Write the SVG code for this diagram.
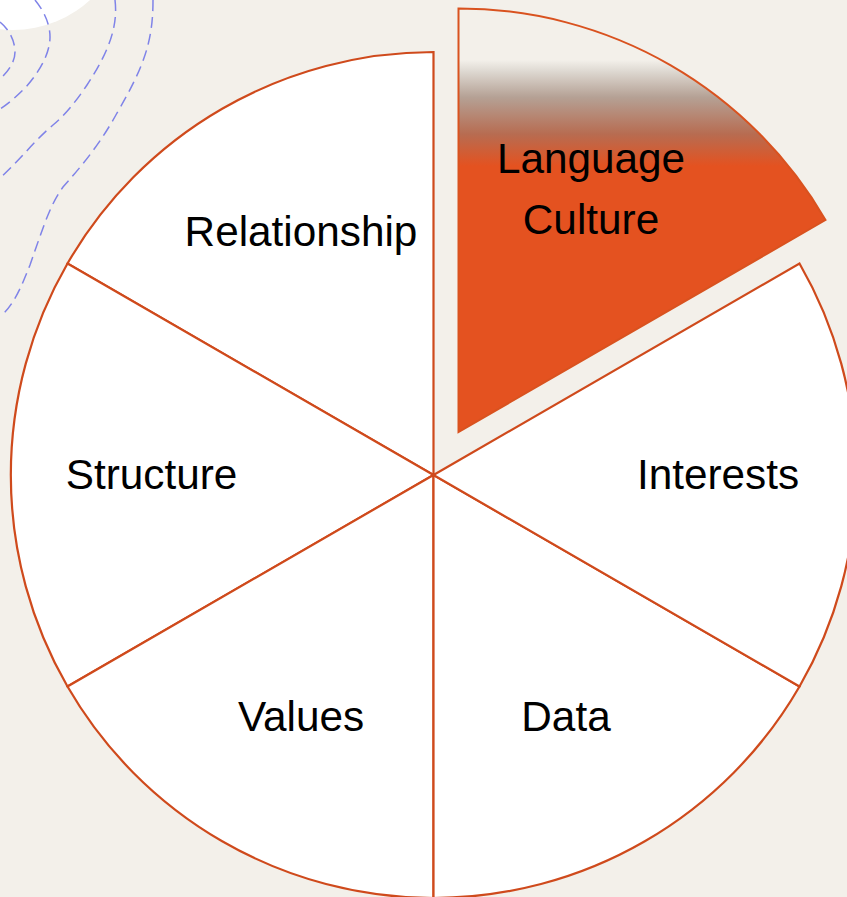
<svg xmlns="http://www.w3.org/2000/svg" width="847" height="897" viewBox="0 0 847 897">
<style>
.seg{fill:#fff;stroke:#cf4a1c;stroke-width:2.2}
.d{fill:none;stroke:#7f83e8;stroke-width:1.5;stroke-dasharray:11 6}
text{font-family:"Liberation Sans",Arial,sans-serif;font-size:42.3px;fill:#000;text-anchor:middle}
</style>
<defs>
<linearGradient id="g" gradientUnits="userSpaceOnUse" x1="0" y1="60" x2="0" y2="166">
<stop offset="0" stop-color="#f3f0ea"/>
<stop offset="0.1" stop-color="#dfdad3"/>
<stop offset="0.35" stop-color="#b5a195"/>
<stop offset="0.7" stop-color="#b76c51"/>
<stop offset="1" stop-color="#e45220"/>
</linearGradient>
</defs>
<rect width="847" height="897" fill="#f3f0ea"/>
<g id="decor">
<circle cx="13" cy="-84" r="114" fill="#fff"/>
<path class="d" d="M0 22C10 30 15 42 15 52C15 62 8 72 0 79"/>
<path class="d" d="M35 0C44 11 50 24 50 37C50 56 36 76 25 88C16 97 8 104 0 109"/>
<path class="d" d="M115 0C118 25 110 50 87 85C75 103 63 117 53 125C35 140 20 160 0 178"/>
<path class="d" d="M153 0C153 40 145 65 117 113C105 135 90 157 63 187C50 205 44 225 30 265C22 285 15 303 2 315"/>
</g>
<g id="connectors"></g>
<g id="relationship"><path class="seg" d="M433.5 475L67.5 263.5A423 423 0 0 1 433.5 52Z"/><text x="301" y="246">Relationship</text></g>
<g id="structure"><path class="seg" d="M433.5 475L67.5 686.5A423 423 0 0 1 67.5 263.5Z"/><text x="151.500" y="489">Structure</text></g>
<g id="values"><path class="seg" d="M433.500 475L433.500 898A423 423 0 0 1 67.500 686.500Z"/><text x="301" y="731">Values</text></g>
<g id="data"><path class="seg" d="M433.500 475L799.500 686.500A423 423 0 0 1 433.500 898Z"/><text x="566" y="731">Data</text></g>
<g id="interests"><path class="seg" d="M433.500 475L799.500 263.500A423 423 0 0 1 799.500 686.500Z"/><text x="718" y="489">Interests</text></g>
<g id="language-culture"><path d="M458.500 432L458.500 8.500A423.500 423.500 0 0 1 825.500 220Z" fill="url(#g)" stroke="#d9521f" stroke-width="2"/><text x="591" y="173">Language</text><text x="591" y="234">Culture</text></g>
</svg>
